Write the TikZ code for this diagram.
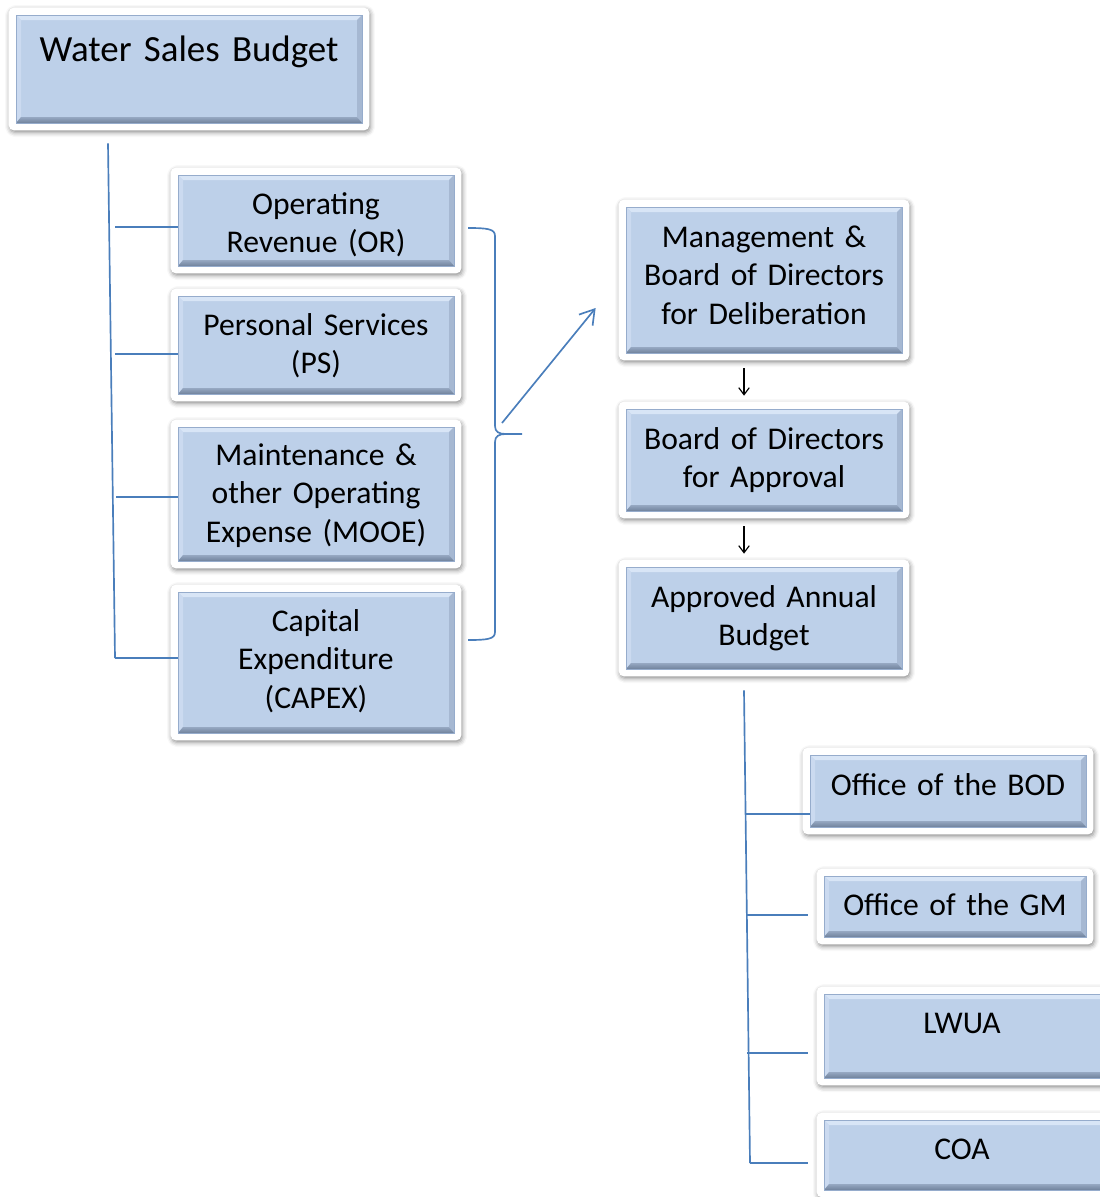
\documentclass[tikz,border=0pt]{standalone}
\usepackage{fontspec}
\setmainfont{Carlito}
\usetikzlibrary{arrows.meta,fit,backgrounds,shadows.blur}

\definecolor{boxfill}{RGB}{189,208,233}
\definecolor{boxedge}{RGB}{150,172,204}
\definecolor{bevtop}{RGB}{216,229,246}
\definecolor{bevleft}{RGB}{203,218,240}
\definecolor{bevright}{RGB}{166,184,210}
\definecolor{bevbotA}{RGB}{150,168,194}
\definecolor{bevbotB}{RGB}{112,130,156}
\definecolor{linkblue}{RGB}{74,126,187}

\begin{document}
\begin{tikzpicture}[x=0.02cm,y=-0.02cm,
  bluebox/.style={draw=boxedge, line width=0.4pt, fill=boxfill, inner sep=0pt,
    path picture={
      \coordinate (pnw) at (path picture bounding box.north west);
      \coordinate (pne) at (path picture bounding box.north east);
      \coordinate (psw) at (path picture bounding box.south west);
      \coordinate (pse) at (path picture bounding box.south east);
      \fill[bevtop] (pnw) -- (pne) -- ([shift={(-5,5)}]pne) -- ([shift={(5,5)}]pnw) -- cycle;
      \fill[bevleft] (pnw) -- ([shift={(5,5)}]pnw) -- ([shift={(5,-6)}]psw) -- (psw) -- cycle;
      \fill[bevright] (pne) -- ([shift={(-5,5)}]pne) -- ([shift={(-5,-6)}]pse) -- (pse) -- cycle;
      \shade[top color=bevbotA, bottom color=bevbotB] (psw) -- ([shift={(5,-6)}]psw) -- ([shift={(-5,-6)}]pse) -- (pse) -- cycle;
    }},
  frame/.style={fill=white, rounded corners=3pt,
    blur shadow={shadow xshift=0.6pt, shadow yshift=-1.2pt, shadow blur radius=2.6pt, shadow opacity=45}},
  boxtext/.style={anchor=base, align=center, inner sep=0pt, text width=5.6cm,
    font=\fontsize{18}{22.1}\selectfont},
  titletext/.style={anchor=base, align=center, inner sep=0pt, text width=6.8cm,
    font=\fontsize{21}{25}\selectfont},
  conn/.style={draw=linkblue, line width=0.95pt},
  branch/.style={draw=linkblue, line width=1.3pt},
  bigarrow/.style={draw=linkblue, line width=0.95pt, -{Straight Barb[length=8pt,width=10pt]}},
  darr/.style={draw=black, line width=0.65pt, -{Straight Barb[length=4pt,width=6pt]},
    shorten <=0.3cm, shorten >=0.26cm}
]
\useasboundingbox (0,0) rectangle (1099,1197);

% budget components (left column)
\node[bluebox, fit={(16,15) (362,123)}] (bwsb) {};
\node[bluebox, fit={(178,175) (454,266)}] (bor) {};
\node[bluebox, fit={(178,296) (454,394)}] (bps) {};
\node[bluebox, fit={(178,427) (454,561)}] (bmooe) {};
\node[bluebox, fit={(178,592) (454,733)}] (bcapex) {};

% approval steps (middle column)
\node[bluebox, fit={(626,207) (902,353)}] (bmgmt) {};
\node[bluebox, fit={(626,409) (902,511)}] (bboda) {};
\node[bluebox, fit={(626,567) (902,669)}] (baab) {};

% distribution (right column)
\node[bluebox, fit={(810,755) (1086,827)}] (bbod) {};
\node[bluebox, fit={(824,876) (1086,937)}] (bgm) {};
\node[bluebox, fit={(824,994) (1112,1078)}] (blwua) {};
\node[bluebox, fit={(824,1120) (1112,1190)}] (bcoa) {};

% white frames with soft shadows behind every box
\begin{scope}[on background layer]
  \foreach \n in {bwsb,bor,bps,bmooe,bcapex,bmgmt,bboda,baab,bbod,bgm,blwua,bcoa}
    \path[frame] ([shift={(-7,-7)}]\n.north west) rectangle ([shift={(7,7)}]\n.south east);
\end{scope}

% box texts
\node[titletext] (twsb) at (189,61) {Water Sales Budget};
\node[boxtext] (tor) at (316,214) {Operating\\Revenue (OR)};
\node[boxtext] (tps) at (316,335) {Personal Services\\(PS)};
\node[boxtext] (tmooe) at (316,465) {Maintenance \&\\other Operating\\Expense (MOOE)};
\node[boxtext] (tcapex) at (316,631) {Capital\\Expenditure\\(CAPEX)};
\node[boxtext] (tmgmt) at (764,247) {Management \&\\Board of Directors\\for Deliberation};
\node[boxtext] (tboda) at (764,449) {Board of Directors\\for Approval};
\node[boxtext] (taab) at (764,607) {Approved Annual\\Budget};
\node[boxtext] (tbod) at (948,795) {Office of the BOD};
\node[boxtext] (tgm) at (955,915) {Office of the GM};
\node[boxtext] (tlwua) at (962,1033) {LWUA};
\node[boxtext] (tcoa) at (962,1159) {COA};

% left tree
\coordinate (lt0) at ([shift={(-81,20)}]bwsb.south);
\coordinate (lt1) at (115,227);
\coordinate (lt2) at (115,354);
\coordinate (lt3) at (116,497);
\coordinate (lt4) at (115,658);
\draw[conn] (lt0) -- (lt4);
\draw[branch] (lt1) -- (lt1 -| bor.west);
\draw[branch] (lt2) -- (lt2 -| bps.west);
\draw[branch] (lt3) -- (lt3 -| bmooe.west);
\draw[branch] (lt4) -- (lt4 -| bcapex.west);

% brace gathering the four components
\coordinate (brt) at (468,228);
\coordinate (brm) at (522,434);
\coordinate (brb) at (468,640);
\draw[conn] (brt) .. controls (488,228) and (495,229) .. (495,236) -- (495,426)
  .. controls (495,432) and (499,434) .. (506,434) -- (brm) -- (506,434)
  .. controls (499,434) and (495,436) .. (495,442) -- (495,632)
  .. controls (495,639) and (488,640) .. (brb);
\coordinate (arrs) at (502,423);
\draw[bigarrow] (arrs) -- ([shift={(-30,28)}]bmgmt.west);

% approval flow
\draw[darr] ([xshift=-0.4cm]bmgmt.south) -- ([xshift=-0.4cm]bboda.north);
\draw[darr] ([xshift=-0.4cm]bboda.south) -- ([xshift=-0.4cm]baab.north);

% right tree
\coordinate (rt0) at ([shift={(-20,21)}]baab.south);
\coordinate (rt1) at (745,814);
\coordinate (rt2) at (747,915);
\coordinate (rt3) at (747,1053);
\coordinate (rt4) at (750,1163);
\draw[conn] (rt0) -- (rt4);
\draw[branch] (rt1) -- (rt1 -| bbod.west);
\draw[branch, shorten >=0.32cm] (rt2) -- (rt2 -| bgm.west);
\draw[branch, shorten >=0.32cm] (rt3) -- (rt3 -| blwua.west);
\draw[branch, shorten >=0.32cm] (rt4) -- (rt4 -| bcoa.west);
\end{tikzpicture}
\end{document}
